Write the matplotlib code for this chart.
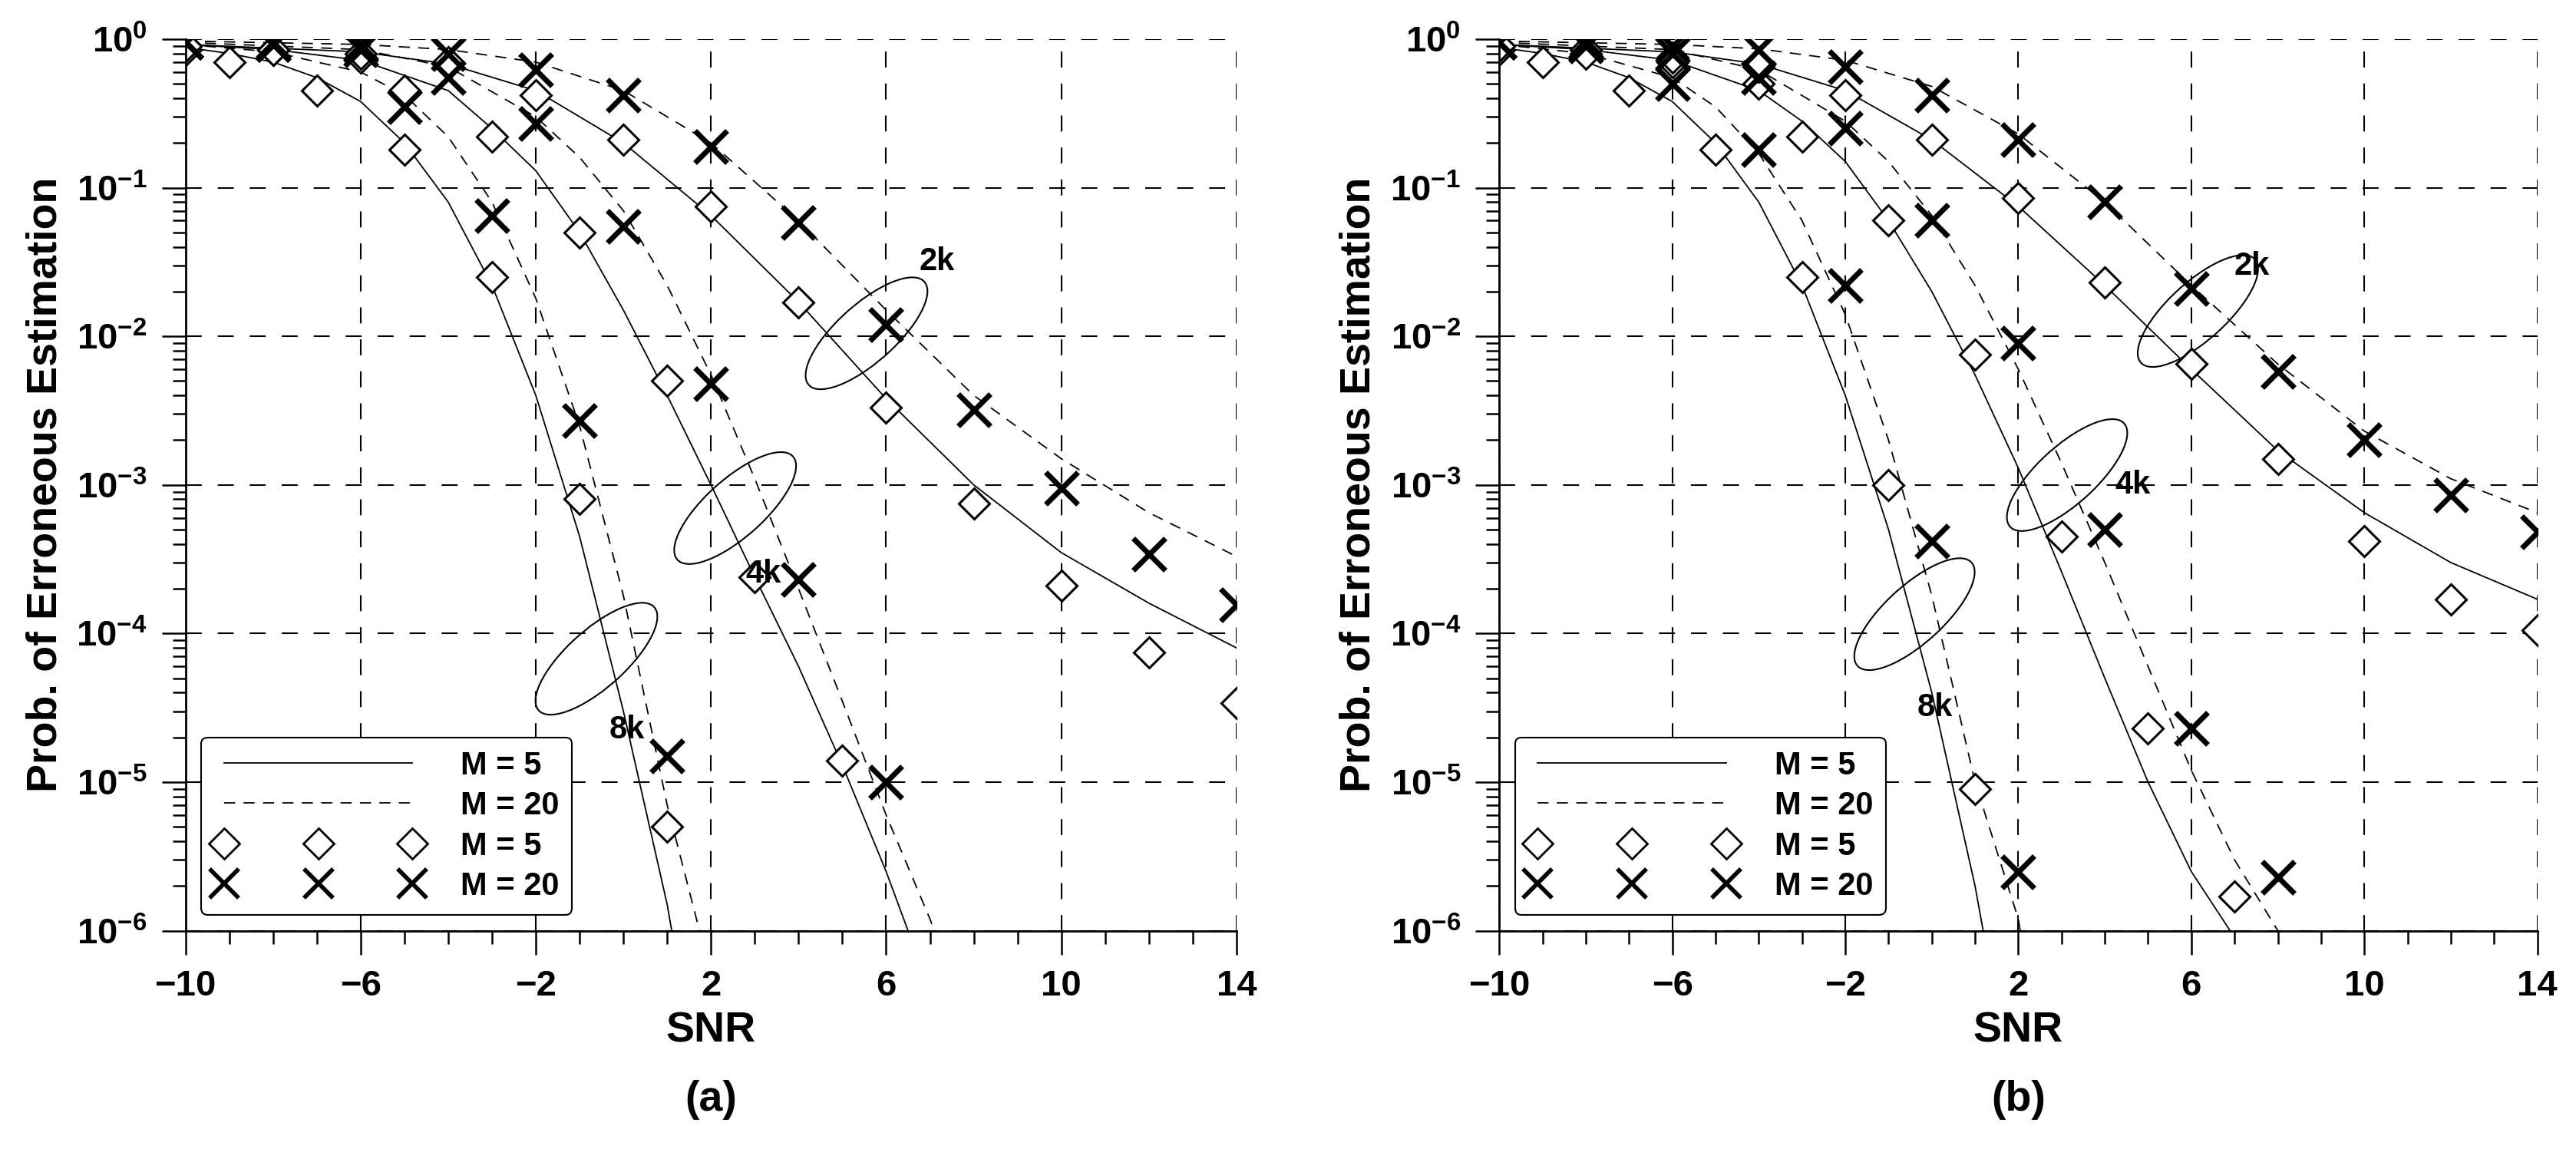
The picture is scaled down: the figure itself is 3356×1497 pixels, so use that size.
import numpy as np
import matplotlib
matplotlib.use("Agg")
import matplotlib.pyplot as plt
from matplotlib.patches import Ellipse
from matplotlib.lines import Line2D

plt.rcParams['font.family'] = ['Liberation Sans', 'DejaVu Sans']
plt.rcParams['font.weight'] = 'bold'
plt.rcParams['mathtext.fontset'] = 'custom'
plt.rcParams['mathtext.bf'] = 'Liberation Sans:bold'
plt.rcParams['mathtext.rm'] = 'Liberation Sans:bold'

# ---- panel (a) markers ----
a_8k_d_x = [-10, -9, -7, -5, -3, -1, 1]
a_8k_d_y = [0.85, 0.7, 0.45, 0.18, 0.025, 8e-4, 5e-6]
a_8k_c_x = [-10, -8, -6, -5, -3, -1, 1]
a_8k_c_y = [0.95, 0.92, 0.85, 0.35, 0.065, 2.7e-3, 1.5e-5]
a_4k_d_x = [-10, -8, -6, -5, -3, -1, 1, 3, 5]
a_4k_d_y = [0.9, 0.85, 0.75, 0.45, 0.22, 0.05, 5e-3, 2.4e-4, 1.4e-5]
a_4k_c_x = [-10, -8, -6, -4, -2, 0, 2, 4, 6]
a_4k_c_y = [0.95, 0.92, 0.9, 0.55, 0.27, 0.055, 4.8e-3, 2.3e-4, 1e-5]
a_2k_d_x = [-10, -8, -6, -4, -2, 0, 2, 4, 6, 8, 10, 12, 14]
a_2k_d_y = [0.9, 0.85, 0.8, 0.7, 0.42, 0.21, 0.075, 0.017, 3.3e-3, 7.5e-4, 2.1e-4, 7.5e-5, 3.4e-5]
a_2k_c_x = [-10, -8, -6, -4, -2, 0, 2, 4, 6, 8, 10, 12, 14]
a_2k_c_y = [0.95, 0.95, 0.92, 0.8, 0.62, 0.42, 0.19, 0.058, 0.012, 3.2e-3, 9.5e-4, 3.4e-4, 1.55e-4]

# ---- panel (a) curves ----
a_8k_s_x = [-10, -9, -8, -7, -6, -5, -4, -3, -2, -1, 0, 1, 2]
a_8k_s_y = [0.88, 0.8, 0.7, 0.55, 0.38, 0.2, 0.08, 0.022, 4e-3, 4.5e-4, 3e-5, 1.5e-6, 3e-8]
a_8k_m_x = [-10, -8, -6, -5, -4, -3, -2, -1, 0, 1, 2, 3]
a_8k_m_y = [0.92, 0.82, 0.6, 0.42, 0.22, 0.08, 0.018, 2.5e-3, 1.8e-4, 7e-6, 5e-7, 5e-9]
a_4k_s_x = [-10, -8, -6, -4, -3, -2, -1, 0, 1, 2, 3, 4, 5, 6, 7]
a_4k_s_y = [0.92, 0.85, 0.72, 0.45, 0.25, 0.13, 0.05, 0.015, 4e-3, 1e-3, 2.4e-4, 6e-5, 1.3e-5, 2.5e-6, 4e-7]
a_4k_m_x = [-10, -6, -4, -2, -1, 0, 1, 2, 3, 4, 5, 6, 7, 8]
a_4k_m_y = [0.95, 0.85, 0.65, 0.3, 0.16, 0.07, 0.022, 5.5e-3, 1.1e-3, 2e-4, 3.5e-5, 6e-6, 1.2e-6, 2e-7]
a_2k_s_x = [-10, -6, -4, -2, 0, 2, 4, 6, 8, 10, 12, 14]
a_2k_s_y = [0.92, 0.82, 0.68, 0.45, 0.2, 0.065, 0.017, 3.8e-3, 1e-3, 3.5e-4, 1.6e-4, 8e-5]
a_2k_m_x = [-10, -6, -4, -2, 0, 2, 4, 6, 8, 10, 12, 14]
a_2k_m_y = [0.97, 0.92, 0.85, 0.7, 0.45, 0.2, 0.06, 0.015, 4e-3, 1.5e-3, 6.5e-4, 3.3e-4]

# ---- panel (b) markers ----
b_8k_d_x = [-10, -9, -7, -5, -3, -1, 1]
b_8k_d_y = [0.85, 0.7, 0.45, 0.18, 0.025, 1e-3, 9e-6]
b_8k_c_x = [-10, -8, -6, -4, -2, 0, 2]
b_8k_c_y = [0.95, 0.9, 0.5, 0.18, 0.022, 4.2e-4, 2.5e-6]
b_4k_d_x = [-10, -8, -6, -4, -3, -1, 1, 3, 5, 7]
b_4k_d_y = [0.9, 0.85, 0.7, 0.5, 0.22, 0.06, 7.5e-3, 4.5e-4, 2.3e-5, 1.7e-6]
b_4k_c_x = [-10, -8, -6, -4, -2, 0, 2, 4, 6, 8]
b_4k_c_y = [0.95, 0.92, 0.8, 0.55, 0.25, 0.06, 9e-3, 5e-4, 2.3e-5, 2.3e-6]
b_2k_d_x = [-10, -8, -6, -4, -2, 0, 2, 4, 6, 8, 10, 12, 14]
b_2k_d_y = [0.9, 0.8, 0.75, 0.65, 0.42, 0.21, 0.085, 0.023, 6.5e-3, 1.5e-3, 4.2e-4, 1.7e-4, 1.05e-4]
b_2k_c_x = [-10, -8, -6, -4, -2, 0, 2, 4, 6, 8, 10, 12, 14]
b_2k_c_y = [0.95, 0.95, 0.9, 0.85, 0.65, 0.42, 0.21, 0.08, 0.021, 5.8e-3, 2e-3, 8.5e-4, 4.8e-4]

# ---- panel (b) curves ----
b_8k_s_x = [-10, -9, -8, -7, -6, -5, -4, -3, -2, -1, 0, 1, 2]
b_8k_s_y = [0.88, 0.8, 0.7, 0.55, 0.38, 0.2, 0.08, 0.022, 4e-3, 5e-4, 4e-5, 2e-6, 5e-8]
b_8k_m_x = [-10, -8, -6, -5, -4, -3, -2, -1, 0, 1, 2, 3]
b_8k_m_y = [0.92, 0.8, 0.55, 0.35, 0.17, 0.06, 0.014, 2e-3, 1.8e-4, 1e-5, 1.2e-6, 2e-8]
b_4k_s_x = [-10, -8, -6, -4, -3, -2, -1, 0, 1, 2, 3, 4, 5, 6, 7, 8]
b_4k_s_y = [0.92, 0.85, 0.72, 0.45, 0.28, 0.15, 0.06, 0.02, 5.5e-3, 1.3e-3, 2.6e-4, 5e-5, 1e-5, 2.5e-6, 9e-7, 1e-7]
b_4k_m_x = [-10, -6, -4, -2, -1, 0, 1, 2, 3, 4, 5, 6, 7, 8, 9]
b_4k_m_y = [0.95, 0.85, 0.62, 0.28, 0.15, 0.065, 0.022, 6e-3, 1.4e-3, 3e-4, 6e-5, 1.2e-5, 3e-6, 1e-6, 1e-7]
b_2k_s_x = [-10, -6, -4, -2, 0, 2, 4, 6, 8, 10, 12, 14]
b_2k_s_y = [0.92, 0.82, 0.68, 0.45, 0.21, 0.075, 0.022, 6e-3, 1.7e-3, 6.5e-4, 3e-4, 1.7e-4]
b_2k_m_x = [-10, -6, -4, -2, 0, 2, 4, 6, 8, 10, 12, 14]
b_2k_m_y = [0.97, 0.92, 0.86, 0.72, 0.48, 0.23, 0.08, 0.022, 6.5e-3, 2.3e-3, 1.1e-3, 6.5e-4]

x_ticks = [-10, -6, -2, 2, 6, 10, 14]

panels = [
    dict(pos=[0.072, 0.19, 0.408, 0.776], tag='(a)',
         curves=[(a_8k_s_x, a_8k_s_y, '-'), (a_8k_m_x, a_8k_m_y, '--'),
                 (a_4k_s_x, a_4k_s_y, '-'), (a_4k_m_x, a_4k_m_y, '--'),
                 (a_2k_s_x, a_2k_s_y, '-'), (a_2k_m_x, a_2k_m_y, '--')],
         dia=[(a_8k_d_x, a_8k_d_y), (a_4k_d_x, a_4k_d_y), (a_2k_d_x, a_2k_d_y)],
         crs=[(a_8k_c_x, a_8k_c_y), (a_4k_c_x, a_4k_c_y), (a_2k_c_x, a_2k_c_y)],
         ell=[(0.648, 0.67, '2k', 0.715, 0.75), (0.523, 0.474, '4k', 0.55, 0.40),
              (0.391, 0.305, '8k', 0.42, 0.225)]),
    dict(pos=[0.582, 0.19, 0.403, 0.776], tag='(b)',
         curves=[(b_8k_s_x, b_8k_s_y, '-'), (b_8k_m_x, b_8k_m_y, '--'),
                 (b_4k_s_x, b_4k_s_y, '-'), (b_4k_m_x, b_4k_m_y, '--'),
                 (b_2k_s_x, b_2k_s_y, '-'), (b_2k_m_x, b_2k_m_y, '--')],
         dia=[(b_8k_d_x, b_8k_d_y), (b_4k_d_x, b_4k_d_y), (b_2k_d_x, b_2k_d_y)],
         crs=[(b_8k_c_x, b_8k_c_y), (b_4k_c_x, b_4k_c_y), (b_2k_c_x, b_2k_c_y)],
         ell=[(0.673, 0.695, '2k', 0.725, 0.745), (0.547, 0.511, '4k', 0.61, 0.50),
              (0.40, 0.355, '8k', 0.42, 0.25)]),
]

fig = plt.figure(figsize=(33.56, 14.97), dpi=100)

for p in panels:
    ax = fig.add_axes(p['pos'])
    for xs, ys, ls in p['curves']:
        ax.plot(xs, ys, color='black', lw=1.3, ls=ls, dashes=(8, 6) if ls == '--' else (None, None))
    for xs, ys in p['dia']:
        ax.plot(xs, ys, ls='none', marker='D', ms=20, mfc='white', mec='black', mew=2.2)
    for xs, ys in p['crs']:
        ax.plot(xs, ys, ls='none', marker='x', ms=30, mec='black', mew=5)
    for cx, cy, lab, lx, ly in p['ell']:
        ax.add_patch(Ellipse((cx, cy), 0.06, 0.16, angle=-42, transform=ax.transAxes,
                             fill=False, ec='black', lw=1.5))
        ax.text(lx, ly, lab, transform=ax.transAxes, fontsize=30, fontweight='bold',
                ha='center', va='center')
    ax.set_yscale('log')
    ax.set_xlim(-10, 14)
    ax.set_ylim(1e-6, 1)
    ax.set_xticks(x_ticks)
    ax.set_xticks(np.arange(-10, 15, 1), minor=True)
    ax.set_yticks([10.0 ** k for k in range(-6, 1)])
    ax.set_yticklabels([r'$\mathbf{10^{%d}}$' % k for k in range(-6, 1)])
    ax.grid(True, which='major', color='black', ls=(0, (10, 10)), lw=1.5)
    ax.spines['top'].set_visible(False)
    ax.spines['right'].set_visible(False)
    ax.spines['left'].set_linewidth(2)
    ax.spines['bottom'].set_linewidth(2)
    ax.tick_params(which='major', direction='out', length=22, width=1.8, labelsize=34, pad=14)
    ax.tick_params(which='minor', direction='out', length=12, width=1.8)
    for t in ax.get_xticklabels():
        t.set_fontweight('bold')
    ax.set_xlabel('SNR', fontsize=40, fontweight='bold', labelpad=8)
    ax.set_ylabel('Prob. of Erroneous Estimation', fontsize=40, fontweight='bold', labelpad=10)
    ax.text(0.5, -0.19, p['tag'], transform=ax.transAxes, fontsize=40, fontweight='bold',
            ha='center', va='center')
    handles = [Line2D([], [], color='black', lw=1.3, ls='-'),
               Line2D([], [], color='black', lw=1.3, ls='--', dashes=(8, 6)),
               Line2D([], [], ls='none', marker='D', ms=20, mfc='white', mec='black', mew=2),
               Line2D([], [], ls='none', marker='x', ms=28, mec='black', mew=4)]
    leg = ax.legend(handles, ['M = 5', 'M = 20', 'M = 5', 'M = 20'], loc='lower left',
                    numpoints=3, handlelength=6.5, prop={'weight': 'bold', 'size': 30},
                    fancybox=True, framealpha=1, edgecolor='black', borderpad=0.4,
                    labelspacing=0.3, handletextpad=1.2, bbox_to_anchor=(0.0, 0.0))
    leg.get_frame().set_linewidth(1.5)
    leg.set_zorder(5)

fig.savefig('out.png', dpi=100)
